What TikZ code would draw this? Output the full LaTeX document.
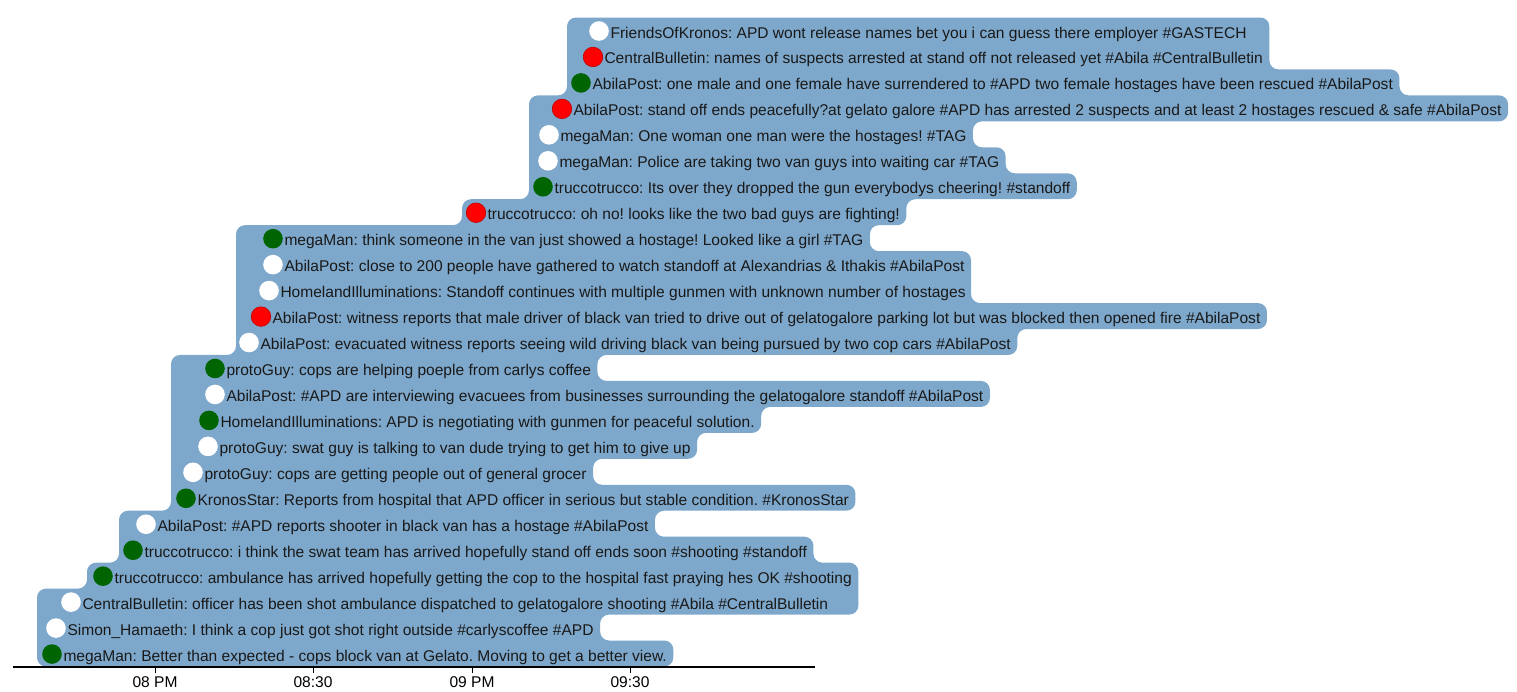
\documentclass[tikz,border=0pt]{standalone}
\usepackage{fontspec}
\setmainfont{Liberation Sans}
\usetikzlibrary{backgrounds}
\definecolor{blob}{RGB}{126,168,203}
\definecolor{tgreen}{RGB}{0,100,0}
\definecolor{tred}{RGB}{255,0,0}
\frenchspacing
\begin{document}
\begin{tikzpicture}[
    x = 1pt, y = -1pt, % screen units, y goes down
    font = \fontsize{15.55}{18}\selectfont,
    line width = 1pt
  ]

  \tikzstyle{tweet}=[anchor=base west, inner sep=0pt, text=black!90]
  \tikzstyle{dot}=[circle, inner sep=0pt, minimum size=19.6pt]
  \tikzstyle{wd}=[fill=white]
  \tikzstyle{gd}=[fill=tgreen]
  \tikzstyle{rd}=[fill=tred, draw=tred!75!black, line width=0.6pt]
  \tikzstyle{tick}=[anchor=base, inner sep=0pt]

  \useasboundingbox (0,0) rectangle (1517,691);

  % row borders
  \foreach \k in {0,...,25}
    \coordinate (b\k) at (0,{17.5+\k*25.96});

  % tweets, top to bottom
  \foreach \i/\c/\col/\txt in {
      1/599/wd/{FriendsOfKronos: APD wont release names bet you i can guess there employer \#GASTECH},
      2/593/rd/{CentralBulletin: names of suspects arrested at stand off not released yet \#Abila \#CentralBulletin},
      3/581/gd/{AbilaPost: one male and one female have surrendered to \#APD two female hostages have been rescued \#AbilaPost},
      4/562/rd/{AbilaPost: stand off ends peacefully?at gelato galore \#APD has arrested 2 suspects and at least 2 hostages rescued \& safe \#AbilaPost},
      5/549/wd/{megaMan: One woman one man were the hostages! \#TAG},
      6/548/wd/{megaMan: Police are taking two van guys into waiting car \#TAG},
      7/543/gd/{truccotrucco: Its over they dropped the gun everybodys cheering! \#standoff},
      8/476/rd/{truccotrucco: oh no! looks like the two bad guys are fighting!},
      9/273/gd/{megaMan: think someone in the van just showed a hostage! Looked like a girl \#TAG},
      10/273/wd/{AbilaPost: close to 200 people have gathered to watch standoff at Alexandrias \& Ithakis \#AbilaPost},
      11/269/wd/{HomelandIlluminations: Standoff continues with multiple gunmen with unknown number of hostages},
      12/261/rd/{AbilaPost: witness reports that male driver of black van tried to drive out of gelatogalore parking lot but was blocked then opened fire \#AbilaPost},
      13/249/wd/{AbilaPost: evacuated witness reports seeing wild driving black van being pursued by two cop cars \#AbilaPost},
      14/215/gd/{protoGuy: cops are helping poeple from carlys coffee},
      15/215/wd/{AbilaPost: \#APD are interviewing evacuees from businesses surrounding the gelatogalore standoff \#AbilaPost},
      16/209/gd/{HomelandIlluminations: APD is negotiating with gunmen for peaceful solution.},
      17/208/wd/{protoGuy: swat guy is talking to van dude trying to get him to give up},
      18/193/wd/{protoGuy: cops are getting people out of general grocer},
      19/186/gd/{KronosStar: Reports from hospital that APD officer in serious but stable condition. \#KronosStar},
      20/146/wd/{AbilaPost: \#APD reports shooter in black van has a hostage \#AbilaPost},
      21/133/gd/{truccotrucco: i think the swat team has arrived hopefully stand off ends soon \#shooting \#standoff},
      22/103/gd/{truccotrucco: ambulance has arrived hopefully getting the cop to the hospital fast praying hes OK \#shooting},
      23/71/wd/{CentralBulletin: officer has been shot ambulance dispatched to gelatogalore shooting \#Abila \#CentralBulletin},
      24/56/wd/{Simon\_Hamaeth: I think a cop just got shot right outside \#carlyscoffee \#APD},
      25/52/gd/{megaMan: Better than expected - cops block van at Gelato. Moving to get a better view.}}{
    \pgfmathsetmacro\yy{30.5+(\i-1)*25.96}
    \node[dot, \col] (d\i) at (\c,{\yy+0.5}) {};
    \node[tweet] (t\i) at ({\c+11},{\yy+7.5}) {\txt};
    \coordinate (r\i) at ([xshift=6pt]t\i.east);
  }

  % the blue band behind the tweets
  \begin{scope}[on background layer]
    \fill[blob, rounded corners=9pt] ([xshift=700pt]b0)
      \foreach \r/\a/\b in {2/0/2, 3/2/3, 4/3/4, 5/4/5, 6/5/6, 7/6/7, 8/7/8, 9/8/9,
          10/9/11, 12/11/12, 13/12/13, 14/13/14, 15/14/15, 16/15/16, 17/16/17,
          18/17/18, 19/18/19, 20/19/20, 21/20/21, 22/21/23, 24/23/24, 25/24/25}
        { -- (r\r |- b\a) -- (r\r |- b\b) }
      \foreach \l/\a/\b in {37/25/22, 87/22/21, 119/21/19, 171/19/13, 236/13/8,
          462/8/7, 529/7/3, 567/3/0}
        { -- ([xshift=\l pt]b\a) -- ([xshift=\l pt]b\b) }
      -- cycle;
  \end{scope}

  % time axis
  \coordinate (ax0) at (13,667);
  \coordinate (ax1) at (815,667);
  \draw[line width=1.2pt] (ax0) -- (ax1);
  \foreach \x/\lab [count=\n] in {155/08 PM, 313/08:30, 472/09 PM, 630/09:30} {
    \draw (\x,667) -- (\x,673);
    \node[tick] (tk\n) at (\x,687) {\lab};
  }

\end{tikzpicture}
\end{document}
